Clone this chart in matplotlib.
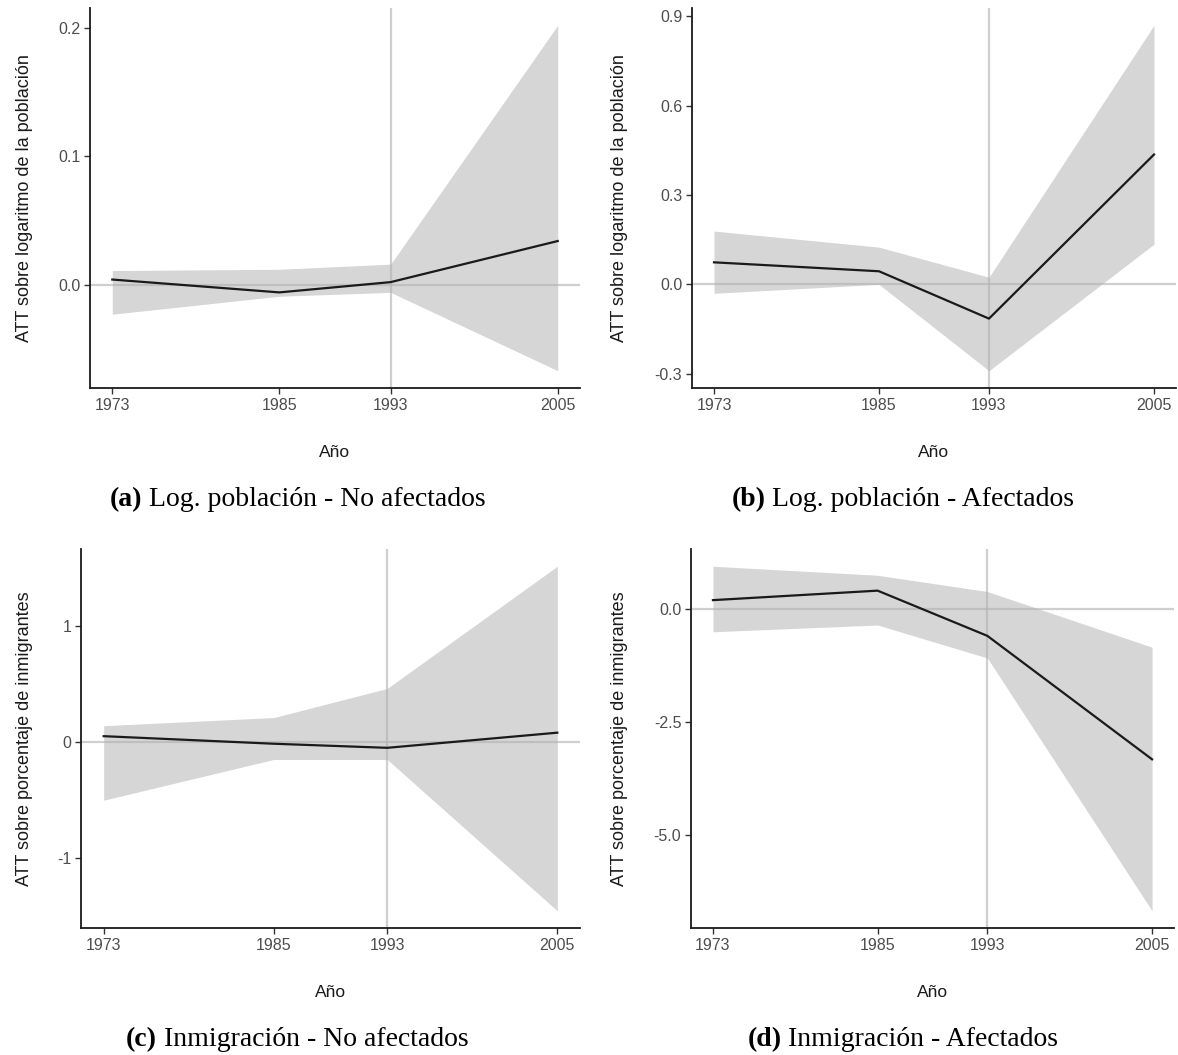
import numpy as np
import matplotlib
matplotlib.use("Agg")
import matplotlib.pyplot as plt

years = [1973, 1985, 1993, 2005]

# (a) Log. población - No afectados
att_a = [0.004, -0.006, 0.002, 0.034]
hi_a = [0.011, 0.012, 0.016, 0.202]
lo_a = [-0.023, -0.009, -0.006, -0.067]

# (b) Log. población - Afectados
att_b = [0.074, 0.044, -0.115, 0.436]
hi_b = [0.179, 0.125, 0.024, 0.870]
lo_b = [-0.030, 0.000, -0.290, 0.135]

# (c) Inmigración - No afectados
att_c = [0.05, -0.015, -0.05, 0.08]
hi_c = [0.14, 0.21, 0.46, 1.51]
lo_c = [-0.50, -0.15, -0.15, -1.45]

# (d) Inmigración - Afectados
att_d = [0.19, 0.40, -0.60, -3.33]
hi_d = [0.94, 0.74, 0.38, -0.85]
lo_d = [-0.51, -0.36, -1.09, -6.68]

yticks_a = [0.0, 0.1, 0.2]
yticks_b = [-0.3, 0.0, 0.3, 0.6, 0.9]
yticks_c = [-1, 0, 1]
yticks_d = [-5.0, -2.5, 0.0]

ylab_pob = "ATT sobre logaritmo de la población"
ylab_inm = "ATT sobre porcentaje de inmigrantes"

captions = [("(a)", " Log. población - No afectados"),
            ("(b)", " Log. población - Afectados"),
            ("(c)", " Inmigración - No afectados"),
            ("(d)", " Inmigración - Afectados")]

W, H = 1178, 1055
fig = plt.figure(figsize=(W / 100, H / 100), dpi=100)

# axes boxes in pixels: left, top, right, bottom
boxes = [(90, 8, 580, 388), (692, 8, 1176, 388),
         (81, 549, 580, 928), (691, 549, 1174, 928)]
# x centre of each caption and of each y label (pixels)
cap_x = [297, 902, 297, 902]
ylab_x = [25, 620, 25, 620]

panels = [(att_a, hi_a, lo_a, yticks_a, ylab_pob, "%.1f"),
          (att_b, hi_b, lo_b, yticks_b, ylab_pob, "%.1f"),
          (att_c, hi_c, lo_c, yticks_c, ylab_inm, "%d"),
          (att_d, hi_d, lo_d, yticks_d, ylab_inm, "%.1f")]

sans = "Liberation Sans"
serif = "Liberation Serif"

for i, ((att, hi, lo, yt, ylab, fmt), (l, t, r, b), (tag, cap)) in enumerate(zip(panels, boxes, captions)):
    ax = fig.add_axes([l / W, 1 - b / H, (r - l) / W, (b - t) / H])
    ax.fill_between(years, lo, hi, color="#d6d6d6", lw=0, zorder=1)
    ax.axhline(0, color="#b0b0b0", alpha=0.6, lw=1.6, zorder=2)
    ax.axvline(1993, color="#b0b0b0", alpha=0.6, lw=1.6, zorder=2)
    ax.plot(years, att, color="#1a1a1a", lw=1.6, zorder=3)

    ymin = min(lo)
    ymax = max(hi)
    pad = (ymax - ymin) * 0.05
    ax.set_ylim(ymin - pad, ymax + pad)
    ax.set_xlim(1973 - 1.6, 2005 + 1.6)

    ax.set_xticks(years)
    ax.set_yticks(yt)
    ax.set_yticklabels([fmt % v for v in yt])
    for s in ["top", "right"]:
        ax.spines[s].set_visible(False)
    for s in ["left", "bottom"]:
        ax.spines[s].set_linewidth(1.3)
        ax.spines[s].set_color("#1a1a1a")
    ax.tick_params(length=4, width=1.0, color="#333333", labelcolor="#4d4d4d",
                   labelsize=11.5, pad=3)
    for lab in ax.get_xticklabels() + ax.get_yticklabels():
        lab.set_family(sans)

    ax.set_xlabel("Año", fontsize=12.5, family=sans, labelpad=23, color="#1a1a1a")
    ax.set_ylabel(ylab, fontsize=13, family=sans, color="#1a1a1a")
    ax.yaxis.set_label_coords((ylab_x[i] - l) / (r - l), 0.5)
    ax.yaxis.label.set_va("center")

    # caption: bold tag + regular text, centred as a whole
    cx = cap_x[i] / W
    cy = 1 - (b + 112) / H
    t1 = fig.text(cx, cy, tag + cap, fontsize=20, family=serif,
                  ha="center", va="center", color="white")
    fig.canvas.draw()
    bb = t1.get_window_extent()
    t1.remove()
    ta = fig.text(bb.x0 / W, cy, tag, fontsize=20, family=serif,
                  weight="bold", ha="left", va="center")
    fig.canvas.draw()
    bb2 = ta.get_window_extent()
    fig.text(bb2.x1 / W, cy, cap, fontsize=20, family=serif,
             ha="left", va="center")

fig.savefig("out.png", dpi=100, facecolor="white")
